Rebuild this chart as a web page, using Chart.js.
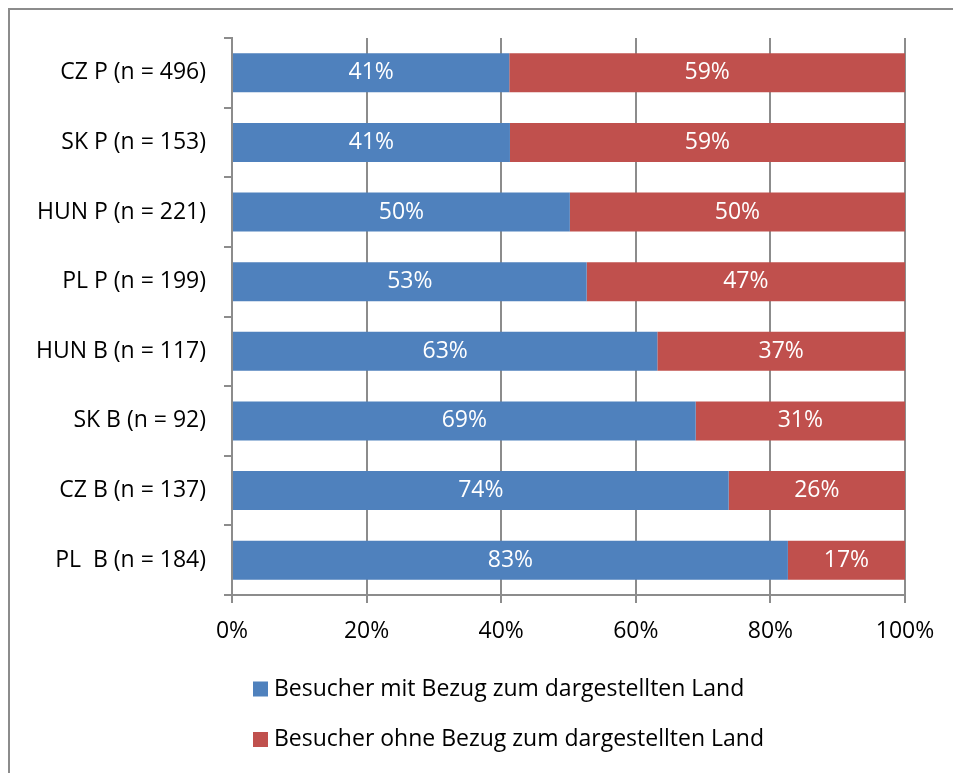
<!DOCTYPE html>
<html>
<head>
<meta charset="utf-8">
<script src="https://cdn.jsdelivr.net/npm/chart.js@4.4.1/dist/chart.umd.min.js"></script>
<style>
  html, body { margin: 0; padding: 0; background: #fff; overflow: hidden; }
  #frame { position: absolute; left: 8px; top: 8px; width: 1000px; height: 1000px; border-left: 2px solid #8c8c8c; border-top: 2px solid #8c8c8c; box-sizing: border-box; }
  #wrap { position: absolute; left: 0; top: 0; width: 953px; height: 773px; }
</style>
</head>
<body>
<div id="frame"></div>
<div id="wrap"><canvas id="c" width="953" height="773"></canvas></div>
<script>
const categories = [
  "CZ P (n = 496)",
  "SK P (n = 153)",
  "HUN P (n = 221)",
  "PL P (n = 199)",
  "HUN B (n = 117)",
  "SK B (n = 92)",
  "CZ B (n = 137)",
  "PL  B (n = 184)"
];
const seriesNames = [
  "Besucher mit Bezug zum dargestellten Land",
  "Besucher ohne Bezug zum dargestellten Land"
];
const withRelation = [41.2, 41.3, 50.2, 52.7, 63.2, 68.9, 73.8, 82.6];
const withoutRelation = [58.8, 58.7, 49.8, 47.3, 36.8, 31.1, 26.2, 17.4];
const xTickValues = [0, 20, 40, 60, 80, 100];

const FONT = "'Open Sans', sans-serif";
const FS = 23;
const GRID = "#8c8c8c";

const dataLabels = {
  id: "dataLabels",
  afterDatasetsDraw(chart) {
    const ctx = chart.ctx;
    ctx.save();
    ctx.fillStyle = "#ffffff";
    ctx.font = FS + "px " + FONT;
    ctx.textAlign = "center";
    ctx.textBaseline = "middle";
    chart.data.datasets.forEach((ds, di) => {
      const meta = chart.getDatasetMeta(di);
      meta.data.forEach((el, i) => {
        const p = el.getCenterPoint();
        ctx.fillText(Math.round(ds.data[i]) + "%", p.x, p.y);
      });
    });
    ctx.restore();
  }
};

const sideLegend = {
  id: "sideLegend",
  afterDraw(chart) {
    const ctx = chart.ctx;
    ctx.save();
    ctx.font = FS + "px " + FONT;
    ctx.textBaseline = "middle";
    ctx.textAlign = "left";
    const ys = [689, 739.5];
    chart.data.datasets.forEach((ds, i) => {
      ctx.fillStyle = ds.backgroundColor;
      ctx.fillRect(253, ys[i] - 7.5, 15, 15);
      ctx.fillStyle = "#000";
      ctx.fillText(ds.label, 274, ys[i]);
    });
    ctx.restore();
  }
};

new Chart(document.getElementById("c"), {
  type: "bar",
  data: {
    labels: categories,
    datasets: [
      { label: seriesNames[0], data: withRelation, backgroundColor: "#4F81BD", borderWidth: 0 },
      { label: seriesNames[1], data: withoutRelation, backgroundColor: "#C0504D", borderWidth: 0 }
    ]
  },
  options: {
    indexAxis: "y",
    responsive: false,
    animation: false,
    layout: { padding: { top: 38, right: 48, left: 0, bottom: 0 } },
    datasets: { bar: { categoryPercentage: 1, barPercentage: 0.56 } },
    plugins: { legend: { display: false }, tooltip: { enabled: false } },
    scales: {
      x: {
        stacked: true,
        min: 0, max: 100,
        afterBuildTicks(scale) { scale.ticks = xTickValues.map(v => ({ value: v })); },
        afterFit(scale) { scale.height = 178; },
        ticks: { callback: v => v + "%", color: "#000", font: { family: FONT, size: FS }, padding: 15, maxRotation: 0 },
        grid: { color: GRID, lineWidth: 2, tickLength: 8 },
        border: { color: GRID, width: 2 }
      },
      y: {
        stacked: true,
        afterFit(scale) { scale.width = 232; },
        ticks: { color: "#000", font: { family: FONT, size: FS }, padding: 18 },
        grid: { color: GRID, lineWidth: 2, tickLength: 8, drawOnChartArea: false, offset: true },
        border: { color: GRID, width: 2 }
      }
    }
  },
  plugins: [dataLabels, sideLegend]
});
</script>
</body>
</html>
